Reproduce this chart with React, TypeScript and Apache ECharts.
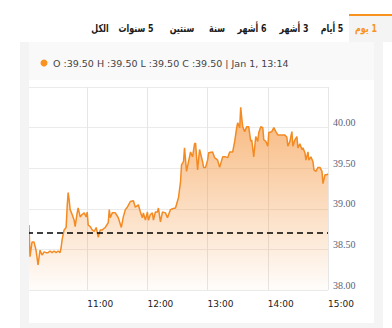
import React, { useEffect, useRef } from "react";
import * as echarts from "echarts";

const times = [
  "10:02","10:03","10:05","10:07","10:09","10:11","10:13","10:15","10:17","10:19",
  "10:21","10:23","10:25","10:27","10:29","10:31","10:33","10:34","10:35","10:37",
  "10:39","10:40","10:41","10:42","10:43","10:45","10:47","10:48","10:50","10:51",
  "10:53","10:55","10:57","10:59","11:00","11:01","11:03","11:05","11:07","11:09",
  "11:11","11:13","11:15","11:18","11:21","11:22","11:23","11:25","11:28","11:31",
  "11:34","11:36","11:38","11:40","11:43","11:46","11:48","11:51","11:53","11:55",
  "11:56","11:58","12:00","12:01","12:03","12:05","12:06","12:08","12:10","12:11",
  "12:13","12:15","12:18","12:20","12:23","12:25","12:28","12:31","12:33","12:34",
  "12:36","12:37","12:39","12:41","12:43","12:45","12:47","12:48","12:50","12:52",
  "12:55","12:56","12:58","13:00","13:01","13:05","13:07","13:10","13:12","13:15",
  "13:18","13:20","13:22","13:25","13:27","13:29","13:30","13:32","13:33","13:34",
  "13:35","13:37","13:39","13:41","13:43","13:44","13:46","13:48","13:50","13:51",
  "13:53","13:55","13:56","13:58","14:00","14:01","14:04","14:06","14:08","14:10",
  "14:14","14:17","14:19","14:20","14:22","14:24","14:25","14:27","14:29","14:30",
  "14:32","14:34","14:35","14:37","14:38","14:40","14:41","14:43","14:45","14:46",
  "14:48","14:50","14:52","14:54","14:55","14:57","14:59","15:00"
];

const prices = [
  38.80,38.41,38.59,38.59,38.49,38.31,38.49,38.43,38.47,38.46,
  38.46,38.48,38.46,38.48,38.46,38.48,38.46,38.52,38.62,38.74,
  38.77,39.02,39.20,39.11,38.99,38.93,38.86,38.78,38.95,39.01,
  38.90,38.93,38.95,38.90,38.96,38.80,38.78,38.74,38.72,38.77,
  38.65,38.74,38.74,38.77,38.83,38.99,38.89,38.95,38.95,38.89,
  38.77,38.90,38.99,39.02,39.09,39.10,39.02,39.05,38.96,38.89,
  38.95,38.86,38.96,38.86,38.93,38.95,38.86,38.96,38.96,39.01,
  38.84,38.96,38.95,38.89,38.99,39.00,39.01,39.14,39.33,39.54,
  39.58,39.75,39.46,39.58,39.70,39.64,39.80,39.81,39.48,39.73,
  39.58,39.51,39.51,39.60,39.69,39.70,39.63,39.60,39.51,39.64,
  39.64,39.63,39.70,39.70,39.83,40.00,40.06,40.00,40.25,40.12,
  40.01,39.95,40.01,40.01,39.83,39.85,39.64,39.89,39.83,39.94,
  40.01,40.00,39.85,39.83,39.77,39.94,39.95,40.00,39.95,39.91,
  39.91,39.91,39.88,39.77,39.83,39.95,39.77,39.85,39.89,39.75,
  39.80,39.73,39.75,39.69,39.60,39.70,39.60,39.64,39.58,39.48,
  39.46,39.51,39.51,39.46,39.31,39.42,39.42,39.43
];

const prevClose = 38.7;
const yMin = 38;
const yMax = 40.5;
const yStep = 0.5;
const sessionStart = "10:00";
const sessionEnd = "15:00";

const tabs = ["1 يوم", "5 أيام", "3 أشهر", "6 أشهر", "سنة", "سنتين", "5 سنوات", "الكل"];
const tabCenters = [366, 332, 294, 252, 217, 182, 136, 100];
const legendText = "O :39.50 H :39.50 L :39.50 C :39.50 | Jan 1, 13:14";

const ORANGE = "#f7931e";

function toMin(s: string) {
  const [h, m] = s.split(":").map(Number);
  const [h0, m0] = sessionStart.split(":").map(Number);
  return (h - h0) * 60 + (m - m0);
}

export default function App() {
  const ref = useRef<HTMLDivElement>(null);

  useEffect(() => {
    document.body.style.margin = "0";
    if (!ref.current) return;
    const chart = echarts.init(ref.current, null, { renderer: "svg" });
    const [h0] = sessionStart.split(":").map(Number);

    const graphic: any[] = [
      { type: "rect", z: -20, shape: { x: 20, y: 42, width: 363, height: 286 }, style: { fill: "#f4f4f4" } },
      { type: "rect", z: -19, shape: { x: 29, y: 42, width: 345, height: 38 }, style: { fill: "#f9f9f9" } },
      { type: "rect", z: -19, shape: { x: 29, y: 80, width: 345, height: 243 }, style: { fill: "#ffffff" } },
      { type: "rect", z: 50, shape: { x: 20, y: 80, width: 9, height: 243 }, style: { fill: "#f4f4f4" } },
      { type: "rect", z: -19, shape: { x: 349, y: 14, width: 43, height: 28 }, style: { fill: "#f4f4f4" } },
      { type: "rect", z: -18, shape: { x: 349, y: 14, width: 43, height: 2 }, style: { fill: ORANGE } },
      { type: "circle", z: 10, shape: { cx: 44, cy: 63, r: 3.5 }, style: { fill: ORANGE } },
      {
        type: "text", z: 10, x: 53, y: 63,
        style: { text: legendText, fill: "#444", font: "9.5px 'DejaVu Sans'", align: "left", verticalAlign: "middle" },
      },
    ];
    tabs.forEach((t, i) => {
      graphic.push({
        type: "text", z: 10, x: tabCenters[i], y: 28, scaleX: 0.72,
        style: {
          text: "\u200F" + t,
          fill: i === 0 ? ORANGE : "#1a1a1a",
          font: "bold 11px 'DejaVu Sans'",
          align: "center",
          verticalAlign: "middle",
        },
      });
    });

    chart.setOption({
      animation: false,
      backgroundColor: "transparent",
      graphic,
      grid: { left: 27, right: 64, top: 87, bottom: 38, containLabel: false },
      xAxis: {
        type: "value",
        min: 0,
        max: toMin(sessionEnd),
        interval: 60,
        axisLine: { show: false },
        axisTick: { show: false },
        splitLine: { show: true, lineStyle: { color: "#e6e6e6", width: 1 } },
        axisLabel: {
          showMinLabel: false,
          align: "left",
          margin: 9,
          color: "#222",
          fontFamily: "DejaVu Sans",
          fontSize: 9,
          formatter: (v: number) => `${h0 + Math.round(v / 60)}:00`,
        },
      },
      yAxis: {
        type: "value",
        position: "right",
        min: yMin,
        max: yMax,
        interval: yStep,
        axisLine: { show: true, lineStyle: { color: "#b8b8b8", width: 2 } },
        axisTick: { show: false },
        splitLine: { show: true, lineStyle: { color: "#ebebeb", width: 1 } },
        axisLabel: {
          showMaxLabel: false,
          margin: 5,
          color: "#5a6478",
          fontFamily: "Liberation Serif",
          fontSize: 10,
          verticalAlign: "bottom",
          formatter: (v: number) => v.toFixed(2),
        },
      },
      series: [
        {
          type: "line",
          data: times.map((t, i) => [toMin(t), prices[i]]),
          showSymbol: false,
          symbol: "none",
          lineStyle: { color: "#f38a22", width: 1.5 },
          areaStyle: {
            color: new echarts.graphic.LinearGradient(0, 0, 0, 1, [
              { offset: 0, color: "rgba(243,140,45,0.9)" },
              { offset: 1, color: "rgba(243,140,45,0.03)" },
            ]),
          },
          markLine: {
            silent: true,
            symbol: "none",
            label: { show: false },
            lineStyle: { color: "#000", type: [6, 4], width: 1.5 },
            data: [{ yAxis: prevClose }],
          },
          z: 3,
        },
      ],
    });

    return () => chart.dispose();
  }, []);

  return <div ref={ref} style={{ width: 392, height: 328 }} />;
}
